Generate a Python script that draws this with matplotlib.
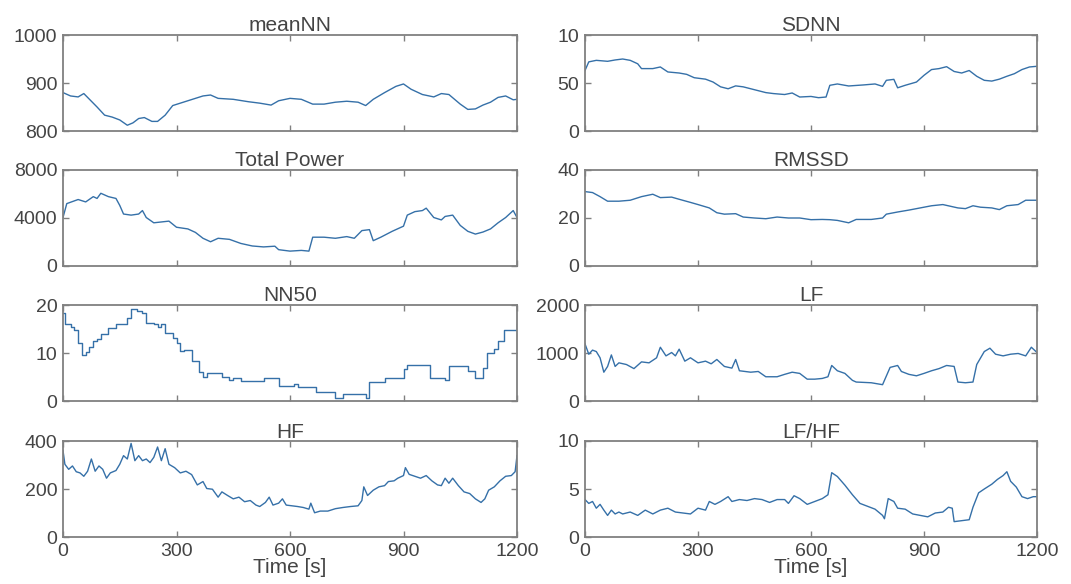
import numpy as np
import matplotlib
matplotlib.use("Agg")
import matplotlib.pyplot as plt

plt.rcParams['font.family'] = ['Liberation Sans', 'DejaVu Sans']

# readings (time in s, value)
mean_nn_t = [0, 20, 40, 55, 70, 90, 110, 130, 150, 170, 185, 200, 215, 235, 250, 270, 290, 310, 330,
             350, 370, 390, 410, 450, 490, 520, 550, 570, 600, 630, 660, 690, 720, 750, 780, 800,
             820, 850, 880, 900, 920, 950, 980, 1000, 1020, 1050, 1070, 1090, 1110, 1130, 1150,
             1170, 1190, 1200]
mean_nn = [880, 873, 871, 878, 866, 850, 833, 829, 823, 812, 817, 826, 828, 820, 820, 833, 853, 858,
           863, 868, 873, 875, 868, 866, 861, 858, 854, 863, 868, 866, 856, 856, 860, 862, 860, 853,
           866, 880, 893, 898, 887, 876, 871, 878, 876, 856, 845, 846, 854, 860, 870, 873, 865, 866]

sdnn_t = [0, 10, 30, 60, 80, 100, 120, 140, 150, 180, 200, 220, 250, 270, 290, 320, 340, 360, 380,
          400, 420, 440, 460, 480, 500, 530, 550, 570, 600, 620, 640, 650, 670, 700, 740, 770, 790,
          800, 820, 830, 850, 880, 900, 920, 940, 960, 980, 1000, 1020, 1040, 1060, 1080, 1100,
          1120, 1140, 1160, 1180, 1200]
sdnn = [63, 72, 73.6, 72.6, 74, 75, 73.6, 70, 65, 65, 66.7, 61.5, 60.4, 59, 55.5, 54, 51, 46, 44,
        47, 46, 44, 42, 40, 39, 38, 39.6, 35.4, 36, 34.7, 35.4, 47.6, 49, 46.9, 48, 49, 46.5, 52.8,
        53.8, 45, 47.6, 51, 58, 64, 65, 67, 62, 60.4, 63, 57, 52.8, 52, 54, 57, 59.7, 64, 66.7, 67.4]

tp_t = [0, 10, 40, 60, 80, 90, 100, 120, 140, 150, 160, 180, 200, 210, 220, 240, 260, 280, 300, 330,
        350, 370, 390, 410, 440, 470, 500, 530, 560, 570, 600, 630, 650, 660, 690, 720, 750, 770,
        790, 810, 820, 840, 870, 900, 910, 930, 950, 960, 980, 1000, 1010, 1030, 1050, 1070, 1090,
        1110, 1130, 1150, 1170, 1190, 1200]
total_power = [4040, 5200, 5540, 5340, 5780, 5630, 6060, 5780, 5630, 5050, 4330, 4240, 4330, 4620,
               4040, 3600, 3670, 3740, 3230, 3090, 2800, 2310, 2020, 2310, 2220, 1880, 1670, 1590,
               1650, 1360, 1240, 1300, 1240, 2400, 2400, 2310, 2450, 2310, 2950, 3030, 2110, 2400,
               2890, 3320, 4240, 4530, 4620, 4820, 4040, 3840, 4130, 4240, 3380, 2890, 2660, 2830,
               3090, 3600, 4040, 4620, 4040]

rmssd_t = [0, 20, 40, 60, 90, 120, 150, 180, 200, 230, 250, 280, 300, 330, 350, 370, 400, 420, 450,
           480, 510, 540, 570, 600, 630, 650, 670, 700, 720, 760, 790, 800, 830, 860, 890, 920, 950,
           970, 990, 1010, 1030, 1050, 1080, 1100, 1120, 1150, 1170, 1200]
rmssd = [31, 30.6, 28.9, 27, 27, 27.4, 28.9, 29.9, 28.5, 28.7, 27.8, 26.5, 25.6, 24.2, 22.2, 21.6,
         21.8, 20.4, 20, 19.7, 20.4, 20, 20, 19.3, 19.4, 19.3, 19, 18, 19.4, 19.4, 20, 21.6, 22.5,
         23.3, 24.2, 25.1, 25.6, 24.9, 24.2, 23.9, 25.1, 24.5, 24.2, 23.5, 25.1, 25.6, 27.4, 27.4]

nn50_t = [0, 5, 20, 30, 40, 50, 60, 70, 80, 90, 100, 120, 140, 160, 170, 180, 195, 210, 220, 240,
          250, 260, 270, 290, 300, 310, 320, 340, 360, 370, 380, 400, 420, 440, 450, 470, 500, 520,
          530, 560, 570, 600, 610, 620, 660, 670, 700, 720, 740, 790, 800, 810, 840, 850, 880, 900,
          910, 960, 970, 1010, 1020, 1060, 1070, 1090, 1110, 1120, 1140, 1150, 1165, 1190, 1200]
nn50 = [18.4, 16, 15.5, 14.8, 12, 9.5, 10.2, 11.3, 12.4, 13, 14, 15.2, 16, 16, 17.3, 19.1, 18.8,
        18.4, 16.2, 16, 15.4, 16, 14.2, 13.1, 12, 10.4, 10.6, 8.3, 6.1, 5, 5.8, 5.8, 5, 4.3, 4.7,
        4.1, 4.1, 4.1, 4.8, 4.8, 3.1, 3.1, 3.6, 2.9, 2.9, 1.9, 1.9, 0.7, 1.4, 1.4, 0.7, 4, 4, 4.8,
        4.8, 6.7, 7.6, 7.6, 4.7, 4.3, 7.2, 7.2, 6.3, 4.7, 6.9, 10.1, 10.8, 12.5, 14.8, 14.8, 16]

lf_t = [0, 10, 20, 30, 40, 50, 60, 70, 80, 90, 110, 130, 150, 170, 190, 200, 215, 230, 240, 250,
        265, 280, 300, 320, 335, 350, 370, 390, 400, 410, 440, 460, 480, 510, 530, 550, 570, 590,
        610, 630, 645, 655, 670, 690, 710, 720, 760, 790, 810, 830, 840, 860, 880, 900, 920, 940,
        960, 980, 990, 1010, 1030, 1040, 1060, 1075, 1090, 1110, 1130, 1150, 1170, 1185, 1200]
lf = [1190, 975, 1060, 1030, 900, 600, 720, 960, 720, 795, 760, 675, 815, 795, 900, 1120, 940, 1010,
      940, 1080, 830, 900, 795, 830, 775, 865, 720, 685, 865, 630, 600, 615, 505, 505, 555, 600,
      575, 455, 455, 470, 505, 740, 630, 575, 430, 395, 380, 340, 700, 740, 615, 555, 525, 575,
      630, 675, 740, 720, 395, 380, 395, 760, 1030, 1100, 975, 940, 975, 990, 940, 1120, 1010]

hf_t = [0, 5, 15, 25, 35, 45, 55, 65, 75, 85, 95, 105, 115, 125, 140, 150, 160, 170, 180, 190, 200,
        210, 220, 230, 240, 250, 260, 270, 280, 295, 310, 325, 340, 355, 370, 380, 395, 410, 420,
        435, 450, 465, 480, 495, 510, 520, 535, 545, 555, 570, 580, 590, 605, 620, 635, 650, 655,
        665, 680, 700, 720, 740, 760, 780, 790, 795, 805, 820, 835, 850, 860, 875, 885, 900, 905,
        915, 930, 945, 960, 975, 990, 1000, 1010, 1020, 1030, 1045, 1060, 1075, 1090, 1105, 1115,
        1125, 1140, 1155, 1170, 1185, 1195, 1200]
hf = [360, 303, 282, 296, 272, 267, 253, 274, 325, 274, 296, 282, 245, 267, 277, 303, 339, 325, 390,
      318, 339, 318, 325, 310, 332, 375, 318, 368, 303, 289, 267, 274, 260, 217, 231, 202, 199, 166,
      188, 173, 159, 166, 147, 152, 133, 127, 144, 166, 133, 141, 159, 133, 130, 127, 123, 116, 141,
      101, 108, 108, 118, 123, 127, 130, 152, 209, 173, 195, 209, 214, 231, 234, 245, 256, 289, 261,
      253, 245, 256, 234, 217, 214, 245, 224, 245, 214, 188, 181, 159, 144, 159, 195, 209, 234, 253,
      256, 272, 339]

lfhf_t = [0, 10, 20, 30, 40, 50, 60, 70, 80, 90, 100, 120, 140, 160, 180, 200, 220, 240, 260, 280,
          300, 320, 330, 345, 360, 380, 390, 410, 430, 450, 470, 490, 510, 530, 540, 555, 570, 590,
          610, 630, 645, 655, 670, 690, 710, 730, 750, 770, 790, 795, 805, 820, 830, 850, 870, 890,
          910, 930, 950, 965, 975, 980, 1000, 1020, 1030, 1045, 1060, 1080, 1095, 1110, 1120, 1130,
          1145, 1160, 1175, 1190, 1200]
lfhf = [3.9, 3.5, 3.7, 3.0, 3.4, 2.8, 2.25, 2.8, 2.4, 2.6, 2.4, 2.6, 2.25, 2.8, 2.4, 2.8, 3.0, 2.6,
        2.5, 2.4, 3.0, 2.8, 3.7, 3.4, 3.7, 4.2, 3.7, 3.9, 3.8, 4.0, 3.9, 3.6, 3.9, 3.9, 3.5, 4.3, 4.0,
        3.4, 3.7, 4.0, 4.4, 6.7, 6.3, 5.4, 4.4, 3.5, 3.2, 2.9, 2.25, 1.9, 4.0, 3.7, 3.0, 2.9, 2.4,
        2.25, 2.1, 2.5, 2.6, 3.1, 3.0, 1.6, 1.7, 1.8, 3.1, 4.6, 5.0, 5.5, 6.0, 6.4, 6.8, 5.8, 5.2,
        4.2, 4.0, 4.2, 4.2]

panels = [
    ("meanNN", mean_nn_t, mean_nn, (800, 1000), [800, 900, 1000], ["800", "900", "1000"], None),
    ("SDNN", sdnn_t, sdnn, (0, 100), [0, 50, 100], ["0", "50", "10"], None),
    ("Total Power", tp_t, total_power, (0, 8000), [0, 4000, 8000], ["0", "4000", "8000"], None),
    ("RMSSD", rmssd_t, rmssd, (0, 40), [0, 20, 40], ["0", "20", "40"], None),
    ("NN50", nn50_t, nn50, (0, 20), [0, 10, 20], ["0", "10", "20"], "steps-post"),
    ("LF", lf_t, lf, (0, 2000), [0, 1000, 2000], ["0", "1000", "2000"], None),
    ("HF", hf_t, hf, (0, 400), [0, 200, 400], ["0", "200", "400"], None),
    ("LF/HF", lfhf_t, lfhf, (0, 10), [0, 5, 10], ["0", "5", "10"], None),
]

fig = plt.figure(figsize=(10.71, 5.84), dpi=100)
col_x = [63 / 1071, 585 / 1071]
col_w = [454 / 1071, 452 / 1071]
row_bottom = [131, 266, 401, 537]
h = 96 / 584
line_color = '#3570a8'
text_color = '#444444'
spine_color = '#808080'

for i, (title, t, v, ylim, yt, ytl, ds) in enumerate(panels):
    r, c = divmod(i, 2)
    ax = fig.add_axes([col_x[c], 1 - row_bottom[r] / 584, col_w[c], h])
    ax.plot(t, v, color=line_color, lw=1.0, drawstyle=ds or 'default')
    ax.set_xlim(0, 1200)
    ax.set_ylim(*ylim)
    ax.set_xticks([0, 300, 600, 900, 1200])
    ax.set_yticks(yt)
    ax.set_yticklabels(ytl)
    ax.tick_params(direction='in', top=True, right=True, length=4, width=1,
                   colors=spine_color, labelcolor=text_color, labelsize=14)
    ax.tick_params(axis='y', pad=4)
    ax.tick_params(axis='x', pad=4)
    for s in ax.spines.values():
        s.set_color(spine_color)
        s.set_linewidth(1.3)
    ax.set_title(title, fontsize=15, color=text_color, pad=2)
    if r == 3:
        ax.set_xticklabels(["0", "300", "600", "900", "1200"])
        ax.set_xlabel("Time [s]", fontsize=15, color=text_color, labelpad=-1)
    else:
        ax.set_xticklabels([])

fig.savefig("out.png", dpi=100)
